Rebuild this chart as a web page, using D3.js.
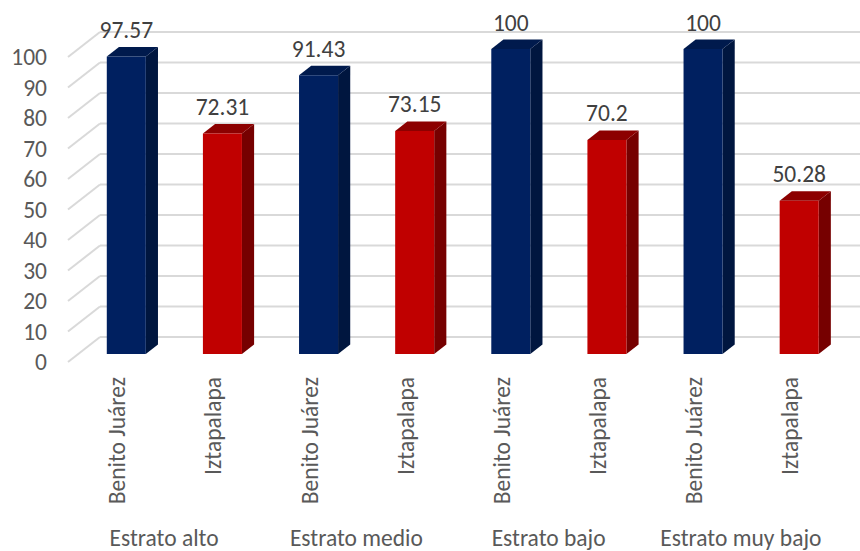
<!DOCTYPE html>
<html>
<head>
<meta charset="utf-8">
<script src="https://cdn.jsdelivr.net/npm/d3@7"></script>
<style>
  html, body { margin: 0; padding: 0; background: #ffffff; }
  svg { display: block; }
  text { font-family: Carlito, Lato, "Open Sans", sans-serif; }
</style>
</head>
<body>
<svg id="chart" width="860" height="551"></svg>
<script>
// Chart data
const strata = ["Estrato alto", "Estrato medio", "Estrato bajo", "Estrato muy bajo"];
const series = ["Benito Juárez", "Iztapalapa"];
const benitoJuarez = [97.57, 91.43, 100, 100];
const iztapalapa = [72.31, 73.15, 70.2, 50.28];
const yTicks = [0, 10, 20, 30, 40, 50, 60, 70, 80, 90, 100];

const seriesValues = [benitoJuarez, iztapalapa];
const faceColors = {
  "Benito Juárez": { front: "#002060", side: "#00163f", top: "#001a4d" },
  "Iztapalapa":    { front: "#c00000", side: "#760000", top: "#8c0000" }
};

const rows = [];
strata.forEach((s, i) => {
  series.forEach((name, j) => rows.push({ stratum: s, name: name, value: seriesValues[j][i] }));
});

const FS = 23.5;
const svg = d3.select("#chart");

// Oblique projection of the 3D box: depth shifts right and up
const DX = 32, DY = 25;
const barFront = 0.32, barBack = 0.70;

const x0 = d3.scaleBand().domain(strata).range([68, 837]);
const x1 = d3.scaleBand().domain(series).range([0, x0.bandwidth()])
  .paddingInner(0.594).paddingOuter(0.297);
const y = d3.scaleLinear().domain([0, 100]).range([362, 57]);

const P = (px, py, d) => [px + d * DX, py - d * DY];

// Back wall gridlines and side-wall diagonals
const grid = svg.append("g");
grid.selectAll("line.h").data(yTicks).join("line")
  .attr("class", "h")
  .attr("x1", 68 + DX).attr("x2", x0.range()[1] + DX)
  .attr("y1", d => y(d) - DY).attr("y2", d => y(d) - DY)
  .attr("stroke", "#d9d9d9").attr("stroke-width", 2);
grid.selectAll("line.d").data(yTicks).join("line")
  .attr("class", "d")
  .attr("x1", 68).attr("y1", d => y(d))
  .attr("x2", 68 + DX).attr("y2", d => y(d) - DY)
  .attr("stroke", "#d9d9d9").attr("stroke-width", 2);

// Y axis tick labels
svg.append("g").selectAll("text").data(yTicks).join("text")
  .attr("x", 47).attr("y", d => y(d))
  .attr("dy", "0.35em")
  .attr("text-anchor", "end")
  .attr("fill", "#595959")
  .attr("font-size", FS)
  .text(d => d);

// Bars drawn as front, side and top faces
const pts = arr => arr.map(p => p.join(",")).join(" ");
const bars = svg.append("g").selectAll("g").data(rows).join("g");
bars.each(function(d) {
  const g = d3.select(this);
  const xl = x0(d.stratum) + x1(d.name);
  const xr = xl + x1.bandwidth();
  const yt = y(d.value), yb = y(0);
  const c = faceColors[d.name];
  g.append("polygon")
    .attr("points", pts([P(xr, yt, barFront), P(xr, yt, barBack), P(xr, yb, barBack), P(xr, yb, barFront)]))
    .attr("fill", c.side);
  g.append("polygon")
    .attr("points", pts([P(xl, yt, barFront), P(xl, yt, barBack), P(xr, yt, barBack), P(xr, yt, barFront)]))
    .attr("fill", c.top);
  g.append("polygon")
    .attr("points", pts([P(xl, yt, barFront), P(xr, yt, barFront), P(xr, yb, barFront), P(xl, yb, barFront)]))
    .attr("fill", c.front);
  // value label above the bar
  g.append("text")
    .attr("x", (xl + xr) / 2 + barFront * DX)
    .attr("y", yt - barBack * DY - 9)
    .attr("text-anchor", "middle")
    .attr("fill", "#404040")
    .attr("font-size", FS)
    .text(String(d.value));
});

// Series labels under each bar, rotated
svg.append("g").selectAll("text").data(rows).join("text")
  .attr("transform", d => `translate(${x0(d.stratum) + x1(d.name) + x1.bandwidth() / 2 + 1},377) rotate(-90)`)
  .attr("dy", "0.35em")
  .attr("text-anchor", "end")
  .attr("fill", "#595959")
  .attr("font-size", FS)
  .text(d => d.name);

// Stratum labels
svg.append("g").selectAll("text").data(strata).join("text")
  .attr("x", d => x0(d) + x0.bandwidth() / 2)
  .attr("y", 546)
  .attr("text-anchor", "middle")
  .attr("fill", "#595959")
  .attr("font-size", FS)
  .text(d => d);
</script>
</body>
</html>
